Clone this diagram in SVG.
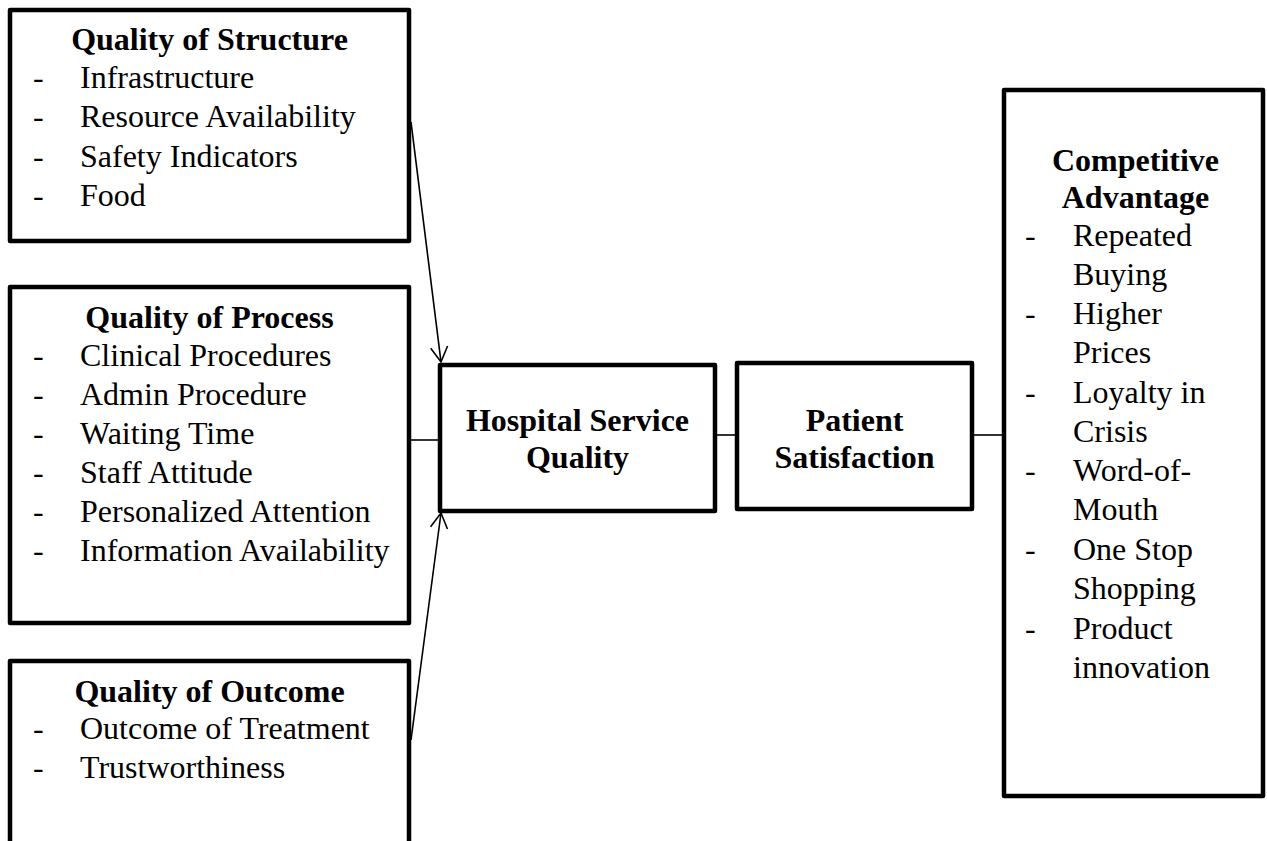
<svg xmlns="http://www.w3.org/2000/svg" width="1267" height="841" viewBox="0 0 1267 841">
<style>
.box{fill:#fff;stroke:#000;stroke-width:4.5;stroke-linejoin:round}
.t{font-family:"Liberation Serif","Times New Roman",serif;font-size:32px;fill:#000}
.b{font-weight:bold;text-anchor:middle}
.c{stroke:#000;stroke-width:1.6;fill:none}
</style>
<defs>
<marker id="arr" markerUnits="userSpaceOnUse" markerWidth="24" markerHeight="24" refX="20" refY="12" orient="auto" viewBox="0 0 24 24">
<path d="M5,3.5 L20,12 L5,20.5" fill="none" stroke="#000" stroke-width="1.6"/>
</marker>
</defs>
<rect width="1267" height="841" fill="#fff"/>
<g id="connectors">
<line class="c" x1="411" y1="122" x2="441" y2="362" marker-end="url(#arr)"/>
<line class="c" x1="411" y1="740" x2="441" y2="513" marker-end="url(#arr)"/>
<line class="c" x1="409" y1="440" x2="440" y2="440"/>
<line class="c" x1="715" y1="435" x2="737" y2="435"/>
<line class="c" x1="972" y1="435" x2="1004" y2="435"/>
</g>
<g id="structure">
<rect class="box" x="10" y="10" width="399" height="231"/>
<text class="t b" x="209.5" y="50">Quality of Structure</text>
<g class="t">
<text x="33" y="88">-</text><text x="80" y="88">Infrastructure</text>
<text x="33" y="127">-</text><text x="80" y="127">Resource Availability</text>
<text x="33" y="167">-</text><text x="80" y="167">Safety Indicators</text>
<text x="33" y="206">-</text><text x="80" y="206">Food</text>
</g>
</g>
<g id="process">
<rect class="box" x="10" y="287" width="399" height="336"/>
<text class="t b" x="209.5" y="328">Quality of Process</text>
<g class="t">
<text x="33" y="366">-</text><text x="80" y="366">Clinical Procedures</text>
<text x="33" y="405">-</text><text x="80" y="405">Admin Procedure</text>
<text x="33" y="444">-</text><text x="80" y="444">Waiting Time</text>
<text x="33" y="483">-</text><text x="80" y="483">Staff Attitude</text>
<text x="33" y="522">-</text><text x="80" y="522">Personalized Attention</text>
<text x="33" y="561">-</text><text x="80" y="561">Information Availability</text>
</g>
</g>
<g id="outcome">
<rect class="box" x="10" y="661" width="399" height="200"/>
<text class="t b" x="209.5" y="702">Quality of Outcome</text>
<g class="t">
<text x="33" y="739">-</text><text x="80" y="739">Outcome of Treatment</text>
<text x="33" y="778">-</text><text x="80" y="778">Trustworthiness</text>
</g>
</g>
<g id="hospital">
<rect class="box" x="440" y="365" width="275" height="146"/>
<text class="t b" x="577.5" y="431">Hospital Service</text>
<text class="t b" x="577.5" y="468">Quality</text>
</g>
<g id="patient">
<rect class="box" x="737" y="363" width="235" height="146"/>
<text class="t b" x="854.5" y="431">Patient</text>
<text class="t b" x="854.5" y="468">Satisfaction</text>
</g>
<g id="competitive">
<rect class="box" x="1004" y="90" width="259" height="706"/>
<text class="t b" x="1135.5" y="171">Competitive</text>
<text class="t b" x="1135.5" y="208">Advantage</text>
<g class="t">
<text x="1025" y="246">-</text><text x="1073" y="246">Repeated</text>
<text x="1073" y="285">Buying</text>
<text x="1025" y="324">-</text><text x="1073" y="324">Higher</text>
<text x="1073" y="363">Prices</text>
<text x="1025" y="403">-</text><text x="1073" y="403">Loyalty in</text>
<text x="1073" y="442">Crisis</text>
<text x="1025" y="481">-</text><text x="1073" y="481">Word-of-</text>
<text x="1073" y="520">Mouth</text>
<text x="1025" y="560">-</text><text x="1073" y="560">One Stop</text>
<text x="1073" y="599">Shopping</text>
<text x="1025" y="639">-</text><text x="1073" y="639">Product</text>
<text x="1073" y="678">innovation</text>
</g>
</g>
</svg>
